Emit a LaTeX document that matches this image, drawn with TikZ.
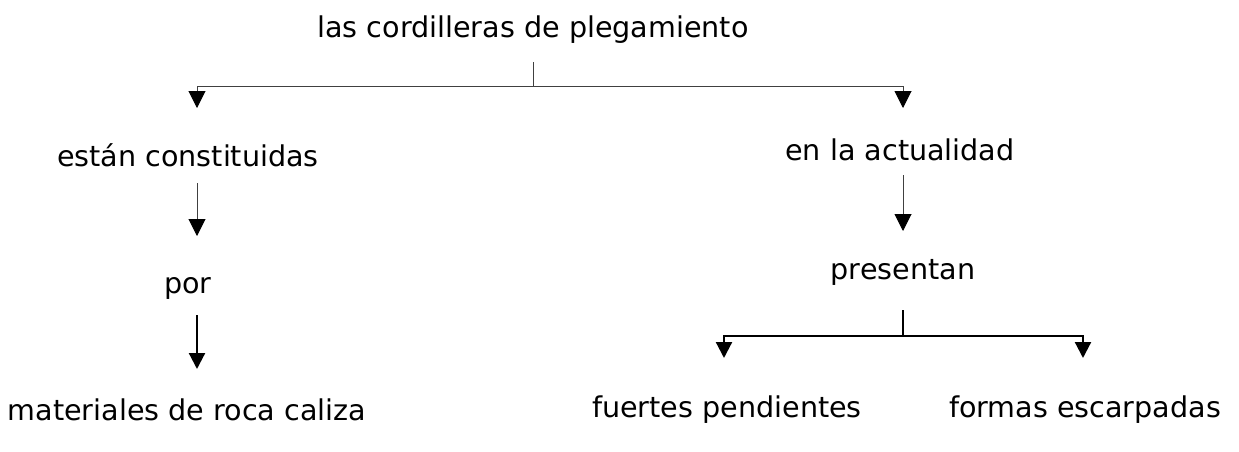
\documentclass[tikz,border=0pt]{standalone}
\usepackage{fontspec}
\setmainfont{DejaVu Sans}
\usetikzlibrary{arrows.meta}

\begin{document}
\begin{tikzpicture}[x=0.5pt,y=-0.5pt,
   concept/.style={font=\fontsize{14.3}{17}\selectfont,inner sep=0pt},
   thin link/.style={draw=black!75,line width=0.5pt,-{Triangle[width=8.5pt,length=8.5pt,color=black]}},
   thick link/.style={draw=black,line width=1.1pt,-{Triangle[width=8pt,length=8pt]}},
   fork/.style={draw=black!75,line width=0.5pt}]
\useasboundingbox (0,0) rectangle (1239,451);
% concepts
\node[concept] (root) at (533,30) {las cordilleras de plegamiento};
\node[concept] (constituidas) at (188,155) {están constituidas};
\node[concept] (actualidad) at (900,150) {en la actualidad};
\node[concept] (por) at (188,288) {por};
\node[concept] (presentan) at (903,272) {presentan};
\node[concept] (materiales) at (187,410) {materiales de roca caliza};
\node[concept] (fuertes) at (727,410) {fuertes pendientes};
\node[concept] (formas) at (1085,410) {formas escarpadas};
% connector points
\coordinate (root-out) at (533,62);
\coordinate (root-fork) at (533,86);
\coordinate (constituidas-in) at (197,108);
\coordinate (actualidad-in) at (903,108);
\coordinate (constituidas-out) at (197,183);
\coordinate (por-in) at (197,236);
\coordinate (por-out) at (197,315);
\coordinate (materiales-in) at (197,369);
\coordinate (actualidad-out) at (903,175);
\coordinate (presentan-in) at (903,231);
\coordinate (presentan-out) at (903,310);
\coordinate (presentan-fork) at (903,336);
\coordinate (fuertes-in) at (724,358);
\coordinate (formas-in) at (1083,358);
% links
\draw[fork] (root-out) -- (root-fork);
\draw[thin link] (root-fork) -| (constituidas-in);
\draw[thin link] (root-fork) -| (actualidad-in);
\draw[thin link] (constituidas-out) -- (por-in);
\draw[thin link] (actualidad-out) -- (presentan-in);
\draw[thick link] (por-out) -- (materiales-in);
\draw[thick link,-] (presentan-out) -- (presentan-fork);
\draw[thick link] (presentan-fork) -| (fuertes-in);
\draw[thick link] (presentan-fork) -| (formas-in);
\end{tikzpicture}
\end{document}
